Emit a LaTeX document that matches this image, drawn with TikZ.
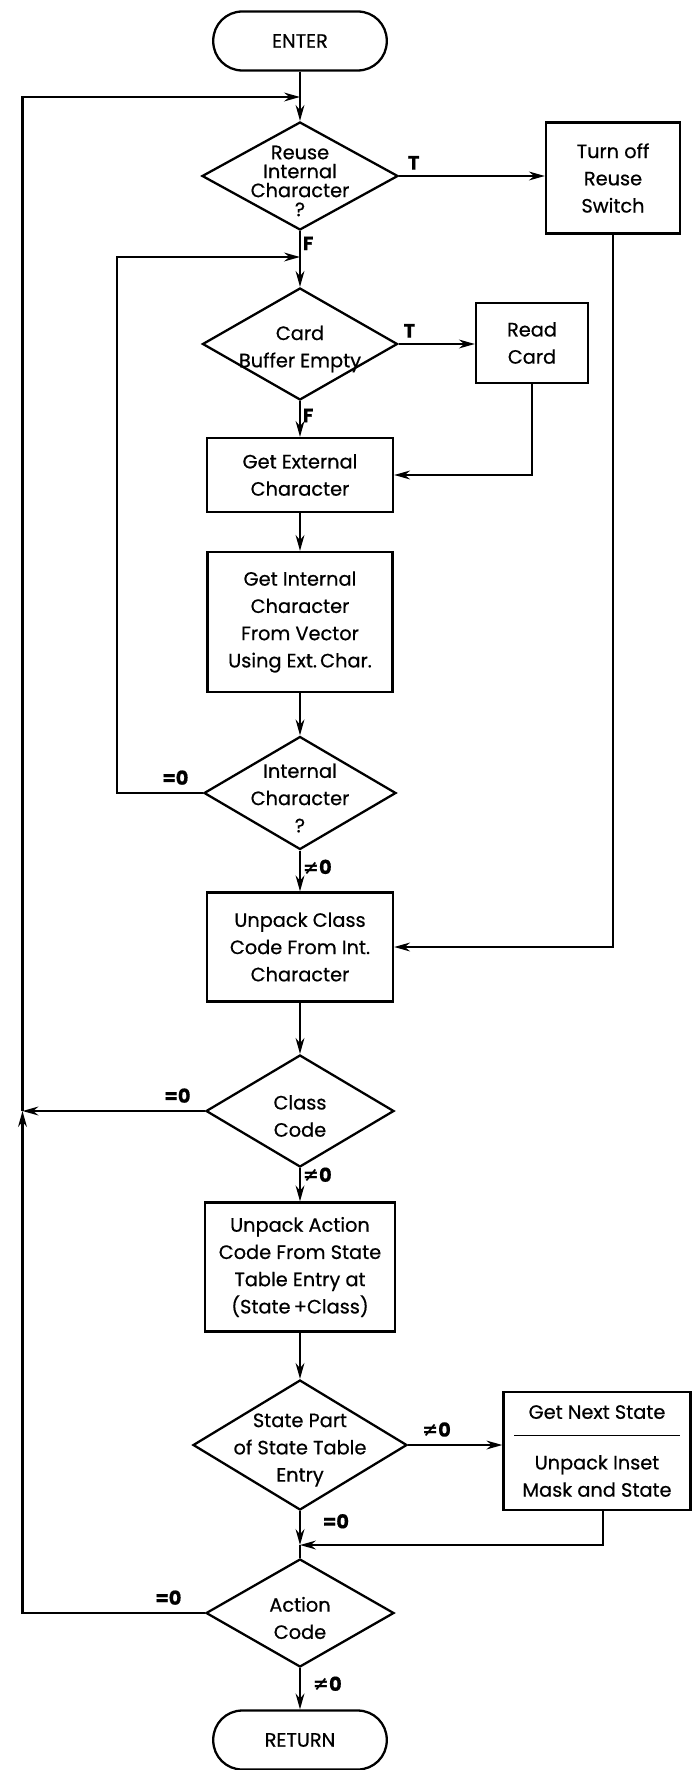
\documentclass[tikz,border=0pt]{standalone}
\usepackage{fontspec}
\setmainfont{Poppins}[FakeBold=0.6]
\newfontfamily\symbfont{DejaVu Sans}
\usetikzlibrary{shapes.geometric,arrows.meta}

\newcommand{\nz}{{\symbfont\bfseries ≠}0}

\begin{document}
\begin{tikzpicture}[
    font=\fontsize{11}{15.5}\selectfont,
    block/.style={rectangle, draw, line width=1.3pt, align=center, inner sep=2pt},
    decision/.style={diamond, draw, line width=1.3pt, inner sep=0pt},
    dlabel/.style={align=center, inner sep=0pt, yshift=-0.1cm},
    terminal/.style={rectangle, draw, line width=1.3pt, rounded corners=0.58cm, minimum width=3.47cm, minimum height=1.18cm},
    flow/.style={-{Stealth[length=9pt,width=5pt]}, line width=1.3pt},
    line/.style={line width=1.3pt},
    tag/.style={inner sep=1pt, font=\fontsize{11}{11}\selectfont\bfseries}
]
    \useasboundingbox (0,0) rectangle (13.86,-35.4);

    % Entry and reuse test
    \node[terminal] (enter) at (6, -0.82) {ENTER};
    \node[decision, minimum width=3.92cm, minimum height=2.16cm] (reuse) at (6, -3.52) {};
    \node[dlabel, font=\fontsize{11}{10.8}\selectfont] (reuse-t) at (reuse) {Reuse\\Internal\\Character\\?};
    \node[block, minimum width=2.68cm, minimum height=2.22cm] (turnoff) at (12.26, -3.56) {Turn off\\Reuse\\Switch};

    % Card buffer
    \node[decision, minimum width=3.9cm, minimum height=2.24cm] (buffer) at (6, -6.88) {};
    \node[dlabel] (buffer-t) at (buffer) {Card\\Buffer Empty};
    \node[block, minimum width=2.24cm, minimum height=1.6cm] (readcard) at (10.64, -6.86) {Read\\Card};
    \node[block, minimum width=3.72cm, minimum height=1.48cm] (getext) at (6, -9.5) {Get External\\Character};
    \node[block, minimum width=3.7cm, minimum height=2.8cm] (getint) at (6, -12.44) {Get Internal\\Character\\From Vector\\Using Ext.\,Char.};
    \node[decision, minimum width=3.84cm, minimum height=2.26cm] (intchar) at (6, -15.86) {};
    \node[dlabel] (intchar-t) at (intchar) {Internal\\Character\\?};

    % Class and action codes
    \node[block, minimum width=3.72cm, minimum height=2.18cm] (unpackcls) at (6, -18.94) {Unpack Class\\Code From Int.\\Character};
    \node[decision, minimum width=3.76cm, minimum height=2.24cm] (clscode) at (6, -22.22) {};
    \node[dlabel] (clscode-t) at (clscode) {Class\\Code};
    \node[block, minimum width=3.8cm, minimum height=2.58cm] (unpackact) at (6, -25.34) {Unpack Action\\Code From State\\Table Entry at\\(State\,+Class)};
    \node[decision, minimum width=4.28cm, minimum height=2.6cm] (statepart) at (6, -28.9) {};
    \node[dlabel] (statepart-t) at (statepart) {State Part\\of State Table\\Entry};
    \node[block, minimum width=3.74cm, minimum height=2.36cm] (nextst) at (11.94, -29.02) {Get Next State\\[-5.5pt]\rule{3.32cm}{0.9pt}\\[3.3pt]Unpack Inset\\Mask and State};
    \node[decision, minimum width=3.76cm, minimum height=2.16cm] (actcode) at (6, -32.26) {};
    \node[dlabel] (actcode-t) at (actcode) {Action\\Code};
    \node[terminal] (return) at (6, -34.8) {RETURN};

    % Junctions
    \coordinate (topjoin) at (6, -1.94);
    \coordinate (loopjoin) at (6, -5.14);
    \coordinate (inner) at (2.34, -5.14);
    \coordinate (outjoin) at (0.45, -22.22);
    \coordinate (mergejoin) at (6, -30.9);

    % Main flow
    \draw[line] (enter) -- (topjoin);
    \draw[flow] (topjoin) -- (reuse);
    \draw[flow] (reuse.east) -- node[tag, above, pos=0.1, yshift=2pt]{T} (reuse.east -| turnoff.west);
    \draw[flow] (reuse.south) -- node[tag, right, pos=0.22]{F} (buffer.north);
    \draw[flow] (buffer.east) -- node[tag, above, pos=0.14, yshift=2pt]{T} (buffer.east -| readcard.west);
    \draw[flow] (buffer.south) -- node[tag, right, pos=0.4]{F} (getext.north);
    \draw[flow] (readcard.south) |- (getext.east);
    \draw[flow] (getext) -- (getint);
    \draw[flow] (getint) -- (intchar);
    \draw[flow] (intchar.west) -| node[tag, above, pos=0.16, yshift=3pt]{=0} (inner) -- (loopjoin);
    \draw[flow] (intchar.south) -- node[tag, right, pos=0.4]{\nz} (unpackcls.north);
    \draw[flow] (turnoff.south) |- (unpackcls.east);
    \draw[flow] (unpackcls) -- (clscode);
    \draw[flow] (clscode.west) -- node[tag, above, pos=0.15, yshift=3pt]{=0} (outjoin);
    \draw[flow] (clscode.south) -- node[tag, right, pos=0.2]{\nz} (unpackact.north);
    \draw[flow] (unpackact) -- (statepart);
    \draw[flow] (statepart.east) -- node[tag, above, pos=0.3, yshift=3pt]{\nz} (statepart.east -| nextst.west);
    \draw[flow] (statepart.south) -- node[tag, right, pos=0.3, xshift=0.4cm]{=0} (mergejoin);
    \draw[flow] ([xshift=0.12cm]nextst.south) |- (mergejoin);
    \draw[line] (mergejoin) -- (actcode.north);
    \draw[flow] (actcode.south) -- node[tag, right, pos=0.38, xshift=0.2cm]{\nz} (return.north);

    % Back to the start
    \draw[flow] (actcode.west) -| node[tag, above, pos=0.1, yshift=3pt]{=0} (outjoin);
    \draw[flow] (outjoin) |- (topjoin);
\end{tikzpicture}
\end{document}
